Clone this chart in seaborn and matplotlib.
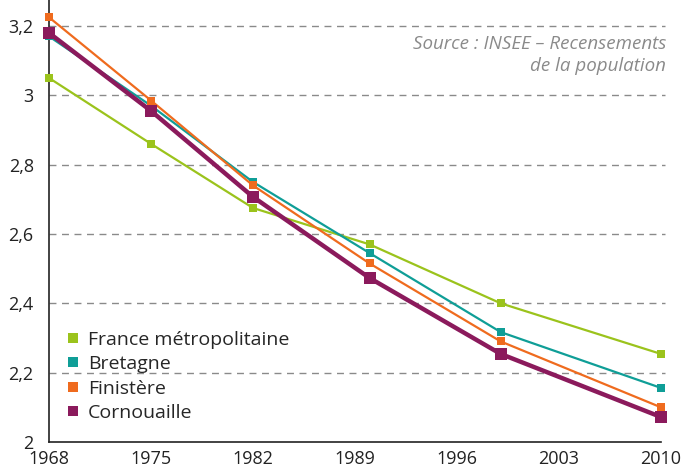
import pandas as pd
import matplotlib.pyplot as plt
import seaborn as sns

# Nombre moyen de personnes par ménage
years = [1968, 1975, 1982, 1990, 1999, 2010]
france = [3.05, 2.86, 2.675, 2.57, 2.40, 2.254]
bretagne = [3.17, 2.97, 2.75, 2.545, 2.317, 2.156]
finistere = [3.225, 2.985, 2.74, 2.515, 2.29, 2.10]
cornouaille = [3.18, 2.955, 2.707, 2.473, 2.254, 2.072]

series = ["France métropolitaine", "Bretagne", "Finistère", "Cornouaille"]
colors = ["#9bc31c", "#0f9e97", "#ef6b1e", "#8b1a5c"]
widths = [1.6, 1.6, 1.6, 3.2]
msizes = [6, 6, 6, 8.5]

df = pd.DataFrame({"year": years, series[0]: france, series[1]: bretagne,
                   series[2]: finistere, series[3]: cornouaille})
long = df.melt(id_vars="year", var_name="zone", value_name="taille")

sns.set_style("white")
plt.rcParams['font.family'] = ['Open Sans', 'DejaVu Sans']

fig = plt.figure(figsize=(6.85, 4.70), dpi=100)
ax = fig.add_axes([49 / 685, 28 / 470, 612 / 685, 442 / 470])

for name, c, lw, ms in zip(series, colors, widths, msizes):
    sub = long[long["zone"] == name]
    sns.lineplot(data=sub, x="year", y="taille", color=c, linewidth=lw,
                 marker="s", markersize=ms, markeredgewidth=0, label=name,
                 ax=ax, clip_on=False, zorder=3)

ax.set_xlim(1968, 2010)
ax.set_ylim(2, 2 + 442 / 346.7)
ax.set_xticks(range(1968, 2011, 7))
ax.set_yticks([2, 2.2, 2.4, 2.6, 2.8, 3.0, 3.2])
ax.set_yticklabels(["2", "2,2", "2,4", "2,6", "2,8", "3", "3,2"])
ax.set_xlabel("")
ax.set_ylabel("")
for y in [2.2, 2.4, 2.6, 2.8, 3.0, 3.2]:
    ax.plot([1968, 2010.3], [y, y], color="#8a8a8a", lw=1, ls=(0, (5, 4)),
            zorder=0, clip_on=False)

ax.tick_params(axis="x", direction="in", length=10, width=1.2, color="#222222",
               labelsize=13, labelcolor="#222222", pad=6)
ax.tick_params(axis="y", length=0, labelsize=13, labelcolor="#222222", pad=11)

for s in ["top", "right"]:
    ax.spines[s].set_visible(False)
for s in ["left", "bottom"]:
    ax.spines[s].set_color("#222222")
    ax.spines[s].set_linewidth(1.2)

fig.text(666 / 685, 1 - 35 / 470, "Source : INSEE – Recensements\nde la population",
         ha="right", va="top", style="italic", fontsize=13.5, color="#8a8a8a",
         linespacing=1.3)

leg_handles = [plt.Line2D([], [], ls="", marker="s", markersize=7.5,
                          markeredgewidth=0, color=c) for c in colors]
ax.legend(leg_handles, series, loc="lower left", bbox_to_anchor=(0.03, 0.045),
          frameon=False, fontsize=14, handlelength=0.6, handletextpad=0.45,
          labelspacing=0.33, borderaxespad=0, borderpad=0)

fig.savefig("out.png", dpi=100)
